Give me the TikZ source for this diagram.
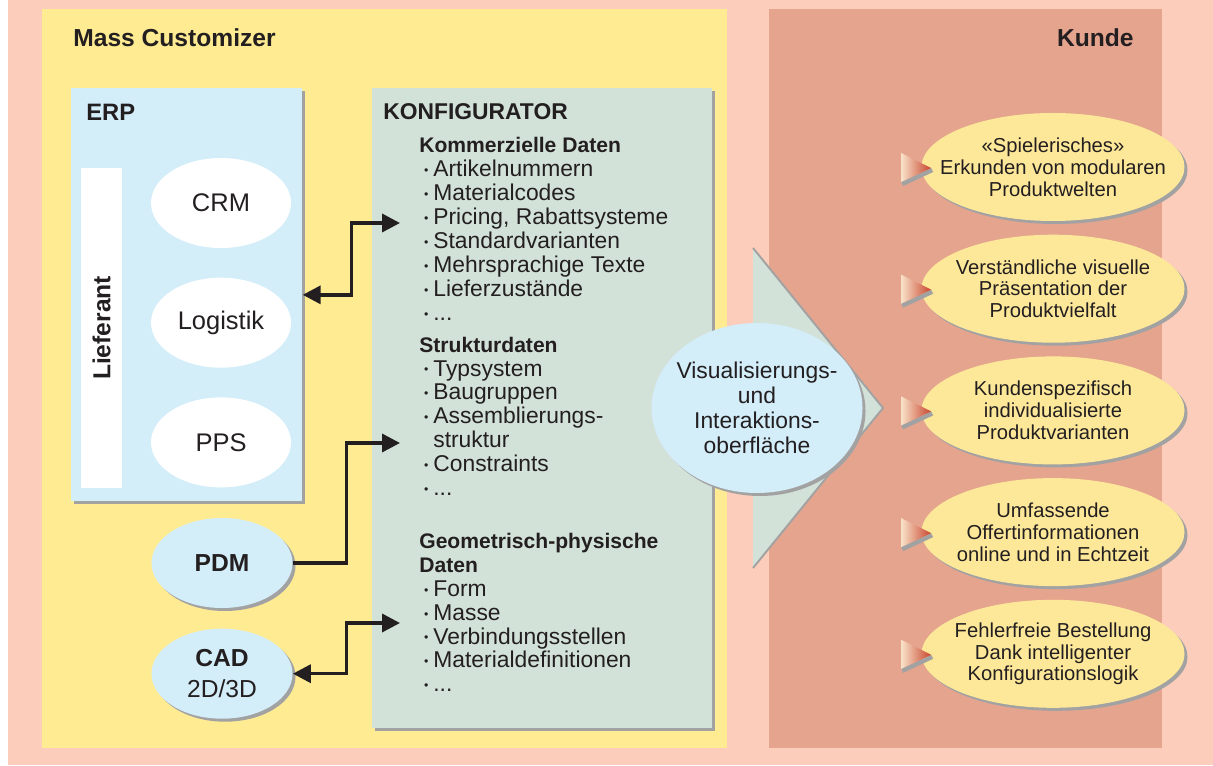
\documentclass[tikz,border=0pt]{standalone}
\usepackage{fontspec}
\setmainfont{Liberation Sans}
\usepackage{xcolor}
\usepackage{tikz}
\usetikzlibrary{shapes,arrows,positioning,calc,arrows.meta,shapes.geometric,shadows}

\definecolor{pageSalmon}{HTML}{FCCDBB}
\definecolor{customizerYellow}{HTML}{FEEB92}
\definecolor{kundeRose}{HTML}{E5A48E}
\definecolor{erpBlue}{HTML}{D3EDF9}
\definecolor{konfGreen}{HTML}{D3E2D9}
\definecolor{shadowGray}{HTML}{A2A2A2}
\definecolor{benefitYellow}{HTML}{FDE89A}
\definecolor{inkBlack}{HTML}{231F20}
\definecolor{markerLight}{HTML}{F8E2C8}
\definecolor{markerRed}{HTML}{C9452E}

\newcommand{\dotItem}{\makebox[0.28cm]{\raisebox{1.2pt}{\fontsize{7}{7}\selectfont •}}}
\newcommand{\dotGap}{\hspace*{0.28cm}}

\tikzset{
  panelBox/.style={
    rectangle,
    anchor=north west,
    inner sep=0pt,
    draw=none
  },
  sheetShadow/.style={
    drop shadow={shadow xshift=0.06cm, shadow yshift=-0.06cm, opacity=1, fill=shadowGray}
  },
  moduleEllipse/.style={
    ellipse,
    fill=white,
    minimum width=2.8cm,
    minimum height=1.8cm,
    inner sep=0pt,
    font=\fontsize{14.5}{16}\selectfont
  },
  toolEllipse/.style={
    ellipse,
    fill=erpBlue,
    sheetShadow,
    minimum width=2.82cm,
    minimum height=1.8cm,
    inner sep=0pt,
    align=center,
    font=\fontsize{14}{18}\selectfont
  },
  benefitBubble/.style={
    ellipse,
    fill=benefitYellow,
    sheetShadow,
    minimum width=5.26cm,
    minimum height=2.16cm,
    inner sep=0pt
  },
  benefitText/.style={
    align=center,
    inner sep=0pt,
    font=\fontsize{11.5}{12.4}\selectfont
  },
  panelTitle/.style={
    anchor=base west,
    inner sep=0pt,
    font=\bfseries\fontsize{14}{16}\selectfont
  },
  dataLink/.style={
    draw=inkBlack,
    line width=2pt,
    -{Triangle[length=0.36cm,width=0.36cm]}
  },
  dataLinkBoth/.style={
    draw=inkBlack,
    line width=2pt,
    {Triangle[length=0.36cm,width=0.36cm]}-{Triangle[length=0.36cm,width=0.36cm]}
  }
}

\begin{document}
\begin{tikzpicture}[text=inkBlack]
  \useasboundingbox (0,0) rectangle (24.26,15.3);
  \fill[white] (0,0) rectangle (0.16,15.3);
  \fill[pageSalmon] (0.16,0) rectangle (24.26,15.3);

  % panels
  \node[panelBox, fill=customizerYellow, minimum width=13.7cm, minimum height=14.78cm] (customizer) at (0.84,15.12) {};
  \node[panelBox, fill=kundeRose, minimum width=7.86cm, minimum height=14.78cm] (kunde) at (15.38,15.12) {};
  \node[panelTitle] (massTitle) at (1.46,14.36) {Mass Customizer};
  \node[panelTitle, anchor=base east] (kundeTitle) at (22.68,14.36) {Kunde};

  % ERP
  \node[panelBox, fill=erpBlue, sheetShadow, minimum width=4.62cm, minimum height=8.26cm] (erp) at (1.42,13.54) {};
  \node[panelTitle, font=\bfseries\fontsize{13.5}{16}\selectfont] (erpTitle) at (1.72,12.89) {ERP};
  \node[rectangle, fill=white, rotate=90, minimum width=6.4cm, minimum height=0.82cm, inner sep=0pt,
        font=\bfseries\fontsize{14}{16}\selectfont] (lieferant) at (2.03,8.74) {Lieferant};
  \node[moduleEllipse] (crm) at (4.42,11.24) {CRM};
  \node[moduleEllipse, below=0.58cm of crm] (logistik) {Logistik};
  \node[moduleEllipse, below=0.58cm of logistik] (pps) {PPS};

  % PDM / CAD
  \node[toolEllipse] (pdm) at (4.44,4.04) {\textbf{PDM}};
  \node[toolEllipse, below=0.4cm of pdm] (cad) {\textbf{CAD}\\2D/3D};

  % Konfigurator
  \node[panelBox, fill=konfGreen, sheetShadow, minimum width=6.8cm, minimum height=12.8cm] (konf) at (7.44,13.54) {};
  \node[panelTitle, font=\bfseries\fontsize{13}{16}\selectfont] (konfTitle) at (7.66,12.9) {KONFIGURATOR};
  \node[anchor=base west, inner sep=0pt, font=\fontsize{13}{13.6}\selectfont] (konfText) at (8.38,12.24) {%
    \begin{tabular}[t]{@{}l@{}}
      \textbf{\fontsize{12}{13.6}\selectfont Kommerzielle Daten}\\
      \dotItem Artikelnummern\\
      \dotItem Materialcodes\\
      \dotItem Pricing, Rabattsysteme\\
      \dotItem Standardvarianten\\
      \dotItem Mehrsprachige Texte\\
      \dotItem Lieferzustände\\
      \dotItem ...\\[0.16cm]
      \textbf{\fontsize{12}{13.6}\selectfont Strukturdaten}\\
      \dotItem Typsystem\\
      \dotItem Baugruppen\\
      \dotItem Assemblierungs-\\
      \dotGap struktur\\
      \dotItem Constraints\\
      \dotItem ...\\[0.58cm]
      \textbf{\fontsize{12}{13.6}\selectfont Geometrisch-physische}\\
      \textbf{\fontsize{12}{13.6}\selectfont Daten}\\
      \dotItem Form\\
      \dotItem Masse\\
      \dotItem Verbindungsstellen\\
      \dotItem Materialdefinitionen\\
      \dotItem ...
    \end{tabular}};

  \coordinate (kommIn) at (8.0,10.84);
  \coordinate (strukIn) at (8.0,6.44);
  \coordinate (geoIn) at (8.0,2.84);

  \draw[dataLinkBoth] (erp.east) -- ++(0.98,0) |- (kommIn);
  \draw[dataLink] (pdm.east) -- ++(1.07,0) |- (strukIn);
  \draw[dataLinkBoth] (cad.east) -- ++(1.07,0) |- (geoIn);

  % chevron towards the customer
  \coordinate (chevTop) at (15.06,10.34);
  \coordinate (chevTip) at (17.66,7.14);
  \coordinate (chevBottom) at (15.06,3.94);
  \fill[konfGreen] (chevTop) -- (chevTip) -- (chevBottom) -- cycle;
  \draw[shadowGray, line width=1.1pt] (chevTop) -- (chevTip) -- (chevBottom);

  \node[ellipse, fill=erpBlue, sheetShadow, minimum width=4.22cm, minimum height=3.4cm, inner sep=0pt] (visual) at (15.14,7.14) {};
  \node[align=center, inner sep=0pt, font=\fontsize{13}{14.2}\selectfont] (visualText) at (visual) {Visualisierungs-\\und\\Interaktions-\\oberfläche};

  % Kunde benefits
  \node[benefitBubble] (b1) at (21.06,11.96) {};
  \node[benefitBubble, below=0.26cm of b1] (b2) {};
  \node[benefitBubble, below=0.26cm of b2] (b3) {};
  \node[benefitBubble, below=0.26cm of b3] (b4) {};
  \node[benefitBubble, below=0.26cm of b4] (b5) {};

  \node[benefitText] (b1t) at (b1) {«Spielerisches»\\Erkunden von modularen\\Produktwelten};
  \node[benefitText] (b2t) at (b2) {Verständliche visuelle\\Präsentation der\\Produktvielfalt};
  \node[benefitText] (b3t) at (b3) {Kundenspezifisch\\individualisierte\\Produktvarianten};
  \node[benefitText] (b4t) at (b4) {Umfassende\\Offertinformationen\\online und in Echtzeit};
  \node[benefitText] (b5t) at (b5) {Fehlerfreie Bestellung\\Dank intelligenter\\Konfigurationslogik};

  \foreach \b in {b1,b2,b3,b4,b5}{
    \fill[shadowGray] ($(\b.west)+(-0.36,-0.38)$) -- ($(\b.west)+(0.24,-0.10)$) -- ($(\b.west)+(0.20,-0.02)$) -- ($(\b.west)+(-0.40,-0.30)$) -- cycle;
    \shade[left color=markerLight, right color=markerRed] ($(\b.west)+(-0.40,0.28)$) -- ($(\b.west)+(0.20,-0.02)$) -- ($(\b.west)+(-0.40,-0.30)$) -- cycle;
  }
\end{tikzpicture}
\end{document}
